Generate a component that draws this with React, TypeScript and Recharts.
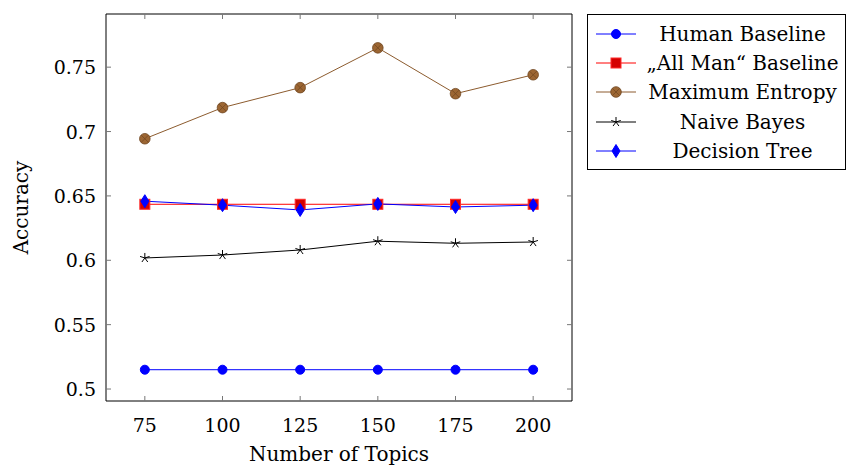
import React from "react";
import {
  LineChart,
  Line,
  XAxis,
  YAxis,
  Legend,
} from "recharts";

const topics = [75, 100, 125, 150, 175, 200];
const humanBaseline = [0.515, 0.515, 0.515, 0.515, 0.515, 0.515];
const allManBaseline = [0.6435, 0.6435, 0.6435, 0.6435, 0.6435, 0.6435];
const maxEntropy = [0.6944, 0.7186, 0.7341, 0.765, 0.7294, 0.7441];
const naiveBayes = [0.6018, 0.6041, 0.608, 0.6148, 0.6132, 0.6142];
const decisionTree = [0.6459, 0.6428, 0.6391, 0.6438, 0.6414, 0.6428];

const xTicks = [75, 100, 125, 150, 175, 200];
const yTicks = [0.5, 0.55, 0.6, 0.65, 0.7, 0.75];
const yTickLabels = ["0.5", "0.55", "0.6", "0.65", "0.7", "0.75"];

const data = topics.map((t, i) => ({
  topics: t,
  human: humanBaseline[i],
  allMan: allManBaseline[i],
  maxent: maxEntropy[i],
  nb: naiveBayes[i],
  dt: decisionTree[i],
}));

const FONT = "'DejaVu Serif', serif";
const BROWN = "#8c5b2e";
const X_DOMAIN = [62.5, 212.5];
const Y_DOMAIN = [0.4907, 0.7913];

type Shape = "circle" | "square" | "otimes" | "star" | "diamond";

const Marker = ({ cx, cy, shape }: { cx: number; cy: number; shape: Shape }) => {
  if (shape === "circle") {
    return <circle cx={cx} cy={cy} r={4.5} fill="#0000ff" stroke="#0000ff" />;
  }
  if (shape === "square") {
    return (
      <rect x={cx - 5} y={cy - 5} width={10} height={10} fill="#d40000" stroke="#ff2a2a" strokeWidth={1} />
    );
  }
  if (shape === "otimes") {
    const d = 3.6;
    return (
      <g>
        <circle cx={cx} cy={cy} r={5.3} fill="#9c6633" stroke="#6f4520" strokeWidth={0.8} />
        <line x1={cx - d} y1={cy - d} x2={cx + d} y2={cy + d} stroke="#6f4520" strokeWidth={0.7} />
        <line x1={cx - d} y1={cy + d} x2={cx + d} y2={cy - d} stroke="#6f4520" strokeWidth={0.7} />
      </g>
    );
  }
  if (shape === "star") {
    const r = 5;
    const arms = [0, 1, 2, 3, 4].map((k) => {
      const a = (-90 + k * 72) * (Math.PI / 180);
      return (
        <line key={k} x1={cx} y1={cy} x2={cx + r * Math.cos(a)} y2={cy + r * Math.sin(a)} stroke="#000" strokeWidth={1} />
      );
    });
    return <g>{arms}</g>;
  }
  return (
    <polygon
      points={`${cx},${cy - 6.5} ${cx + 4},${cy} ${cx},${cy + 6.5} ${cx - 4},${cy}`}
      fill="#0000ff"
      stroke="#0000ff"
    />
  );
};

const series: { key: string; name: string; color: string; shape: Shape }[] = [
  { key: "human", name: "Human Baseline", color: "#0000ff", shape: "circle" },
  { key: "allMan", name: "\u201EAll Man\u201C Baseline", color: "#ff0000", shape: "square" },
  { key: "maxent", name: "Maximum Entropy", color: BROWN, shape: "otimes" },
  { key: "nb", name: "Naive Bayes", color: "#000000", shape: "star" },
  { key: "dt", name: "Decision Tree", color: "#0000ff", shape: "diamond" },
];

const renderLegend = () => (
  <div
    style={{
      border: "1px solid #000",
      background: "#fff",
      width: 259,
      padding: "4px 0",
      fontFamily: FONT,
      fontSize: 20,
      boxSizing: "border-box",
    }}
  >
    {series.map((s) => (
      <div key={s.key} style={{ display: "flex", alignItems: "center", height: 29.3 }}>
        <svg width={50} height={20} style={{ flex: "none", marginLeft: 2 }}>
          <line x1={6} y1={10} x2={46} y2={10} stroke={s.color} strokeWidth={1} />
          <Marker cx={26} cy={10} shape={s.shape} />
        </svg>
        <span style={{ flex: 1, textAlign: "center", whiteSpace: "nowrap", color: "#000" }}>{s.name}</span>
      </div>
    ))}
  </div>
);

const XTick = (props: any) => {
  const { x, y, payload } = props;
  return (
    <text x={x} y={y} textAnchor="middle" dominantBaseline="central" fontFamily={FONT} fontSize={19} fill="#000">
      {payload.value}
    </text>
  );
};

const YTick = (props: any) => {
  const { x, y, payload } = props;
  const idx = yTicks.findIndex((v) => Math.abs(v - payload.value) < 1e-9);
  return (
    <text x={x} y={y} textAnchor="end" dominantBaseline="central" fontFamily={FONT} fontSize={19} fill="#000">
      {idx >= 0 ? yTickLabels[idx] : payload.value}
    </text>
  );
};

export default function App() {
  return (
    <div style={{ position: "absolute", left: 0, top: 0, width: 847, height: 467, background: "#fff" }}>
      <LineChart width={847} height={467} data={data} margin={{ top: 13, right: 274, left: 0, bottom: 0 }}>
        <XAxis
          dataKey="topics"
          type="number"
          domain={X_DOMAIN}
          ticks={xTicks}
          height={66}
          tickSize={-5}
          tickMargin={29}
          axisLine={{ stroke: "#000", strokeWidth: 1 }}
          tickLine={{ stroke: "#777", strokeWidth: 1 }}
          tick={<XTick />}
          label={{ value: "Number of Topics", position: "insideBottom", offset: 6, fontFamily: FONT, fontSize: 20, fill: "#000" }}
        />
        <XAxis
          xAxisId="top"
          dataKey="topics"
          orientation="top"
          type="number"
          domain={X_DOMAIN}
          ticks={xTicks}
          height={1}
          tickSize={-5}
          axisLine={{ stroke: "#000", strokeWidth: 1 }}
          tickLine={{ stroke: "#777", strokeWidth: 1 }}
          tick={() => <g />}
        />
        <YAxis
          type="number"
          domain={Y_DOMAIN}
          ticks={yTicks}
          width={106}
          tickSize={-5}
          tickMargin={15}
          axisLine={{ stroke: "#000", strokeWidth: 1 }}
          tickLine={{ stroke: "#777", strokeWidth: 1 }}
          tick={<YTick />}
          label={{
            content: (p: any) => {
              const vb = p.viewBox || {};
              const cx = 28;
              const cy = (vb.y || 0) + (vb.height || 0) / 2;
              return (
                <text x={cx} y={cy} transform={`rotate(-90 ${cx} ${cy})`} textAnchor="middle" fontFamily={FONT} fontSize={20} fill="#000">
                  Accuracy
                </text>
              );
            },
          }}
        />
        <YAxis
          yAxisId="right"
          orientation="right"
          type="number"
          domain={Y_DOMAIN}
          ticks={yTicks}
          width={1}
          tickSize={-5}
          axisLine={{ stroke: "#000", strokeWidth: 1 }}
          tickLine={{ stroke: "#777", strokeWidth: 1 }}
          tick={() => <g />}
        />
        <Legend
          layout="horizontal"
          verticalAlign="middle"
          align="center"
          content={renderLegend}
          wrapperStyle={{ left: 587, top: 14, width: 259 }}
        />
        {/* invisible series so the frame axes on top/right get drawn */}
        <Line
          xAxisId="top"
          yAxisId="right"
          dataKey="human"
          stroke="none"
          dot={false}
          activeDot={false}
          legendType="none"
          isAnimationActive={false}
        />
        {series.map((s) => (
          <Line
            key={s.key}
            dataKey={s.key}
            name={s.name}
            stroke={s.color}
            strokeWidth={1}
            isAnimationActive={false}
            dot={(p: any) => <Marker key={`${s.key}-${p.index}`} cx={p.cx} cy={p.cy} shape={s.shape} />}
            activeDot={false}
          />
        ))}
      </LineChart>
    </div>
  );
}
